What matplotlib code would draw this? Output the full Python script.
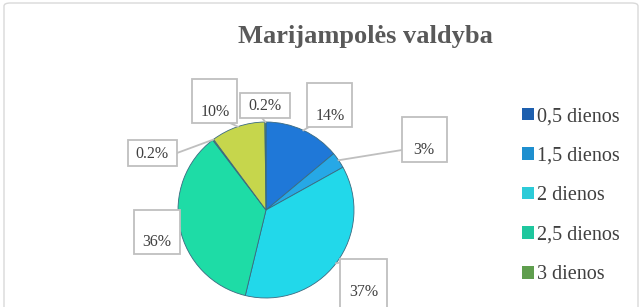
import numpy as np
import matplotlib.pyplot as plt
from matplotlib.patches import Rectangle, FancyBboxPatch

plt.rcParams['font.family'] = ['Liberation Serif', 'DejaVu Serif']

title = 'Marijampolės valdyba'
labels = ['0,5 dienos', '1,5 dienos', '2 dienos', '2,5 dienos', '3 dienos', '3,5 dienos', '4 dienos']
values = [14, 3, 37, 36, 0.2, 10, 0.2]
pct_text = ['14%', '3%', '37%', '36%', '0.2%', '10%', '0.2%']
colors = ['#1f78d8', '#26a8e6', '#22d8ea', '#1edca6', '#5cb85a', '#c6d64c', '#8aa83a']
legend_colors = ['#1d5fae', '#1e8fcf', '#2ccbd8', '#1fc79e', '#5f9e4e', '#a8b83e', '#7a8a30']
n_legend_visible = 5

W, H = 642, 307
fig = plt.figure(figsize=(W / 100, H / 100), dpi=100)

# outer chart frame
fig.patches.append(FancyBboxPatch((4 / W, -0.05), 634 / W, 1 - 3 / H + 0.05,
                                  boxstyle='round,pad=0,rounding_size=0.01',
                                  transform=fig.transFigure, fill=False,
                                  edgecolor='#d9d9d9', lw=1.0))

fig.text(365 / W, 1 - 37 / H, title, ha='center', va='center',
         fontsize=19, fontweight='bold', color='#595959')

# pie axes: centre and radius in pixels
cx, cy, R = 266, 210, 88
ax = fig.add_axes([(cx - R) / W, (H - cy - R) / H, 2 * R / W, 2 * R / H])

wedges, _ = ax.pie(values, colors=colors, startangle=90, counterclock=False,
                   radius=1, wedgeprops=dict(edgecolor='#3a6a80', linewidth=0.6))
for w in wedges:
    w.set_clip_on(False)
ax.set_xlim(-1, 1)
ax.set_ylim(-1, 1)
ax.axis('off')


def d(px, py):
    return (px - cx) / R, (cy - py) / R


# label boxes (pixel rects), text centres and leader start points
boxes = [(307, 83, 352, 127), (402, 117, 447, 162), (340, 259, 387, 312),
         (134, 210, 180, 254), (128, 140, 177, 166), (192, 79, 237, 123),
         (240, 93, 290, 118)]
text_pos = [(330, 116), (424, 150), (364, 292), (157, 242), (152, 154),
            (215, 112), (265, 106)]
lead_from = [(309, 127), (402, 150), (342, 262), (180, 232), (177, 153),
             (230, 123), (262, 118)]

total = sum(values)
cum = 0
for i, v in enumerate(values):
    mid = np.deg2rad(90 - (cum + v / 2) / total * 360)
    cum += v
    ex, ey = np.cos(mid), np.sin(mid)
    x0, y0, x1, y1 = boxes[i]
    bx0, by1 = d(x0, y0)
    bx1, by0 = d(x1, y1)
    ax.add_patch(Rectangle((bx0, by0), bx1 - bx0, by1 - by0, facecolor='white',
                           edgecolor='#bfbfbf', lw=1.3, clip_on=False, zorder=3))
    lx, ly = d(*lead_from[i])
    ax.plot([lx, ex], [ly, ey], color='#bfbfbf', lw=1.3, clip_on=False, zorder=2)
    tx, ty = d(*text_pos[i])
    ax.text(tx, ty, pct_text[i], ha='center', va='center', fontsize=11.5,
            color='#404040', zorder=4, clip_on=False)

handles = [Rectangle((0, 0), 1, 1, facecolor=c, edgecolor='none') for c in legend_colors]
fig.legend(handles[:n_legend_visible], labels[:n_legend_visible], loc='upper left',
           bbox_to_anchor=(514 / W, 1 - 99 / H),
           frameon=False, fontsize=14.5, handlelength=0.6, handleheight=0.6,
           handletextpad=0.15, labelspacing=1.02, borderaxespad=0,
           labelcolor='#404040')

fig.savefig('out.png', dpi=100)
